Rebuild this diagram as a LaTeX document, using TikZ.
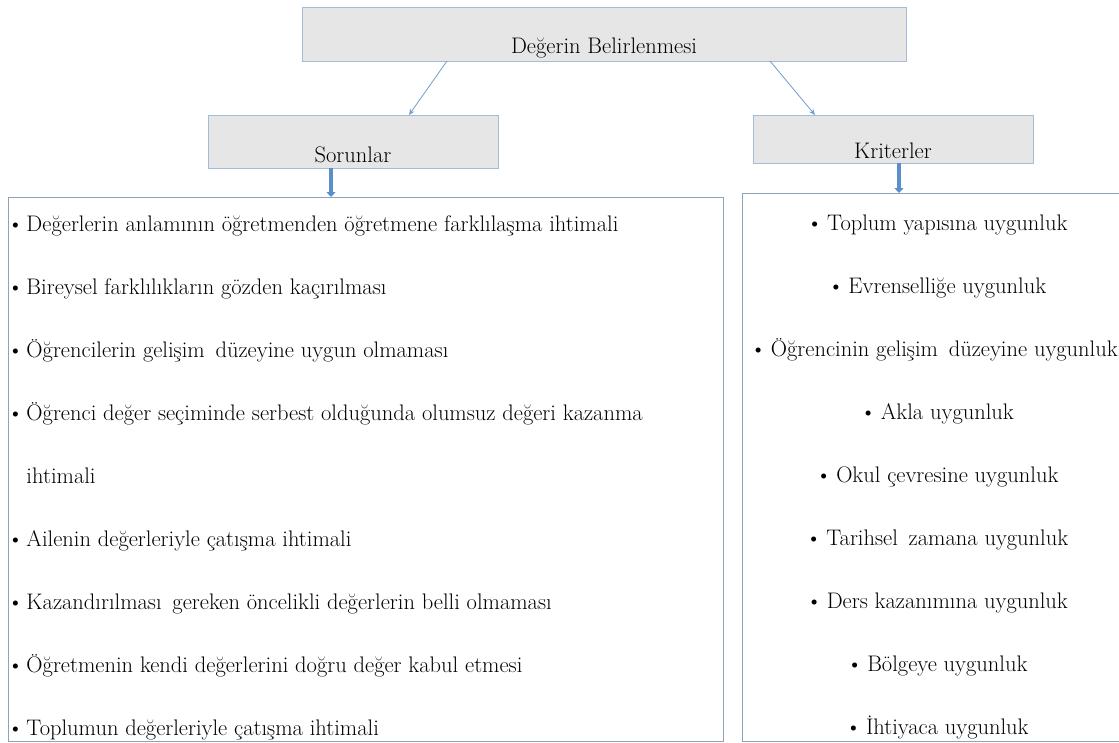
\documentclass[tikz,border=0pt]{standalone}
\usetikzlibrary{arrows.meta,calc}

\definecolor{boxfill}{HTML}{E7E6E6}
\definecolor{boxedge}{HTML}{A3BDD8}
\definecolor{listedge}{HTML}{8DA3B9}
\definecolor{linkblue}{HTML}{6F9DD0}
\definecolor{flowblue}{HTML}{5B8FCB}

\newcommand{\wsp}{\hspace{4pt}}
\newcommand{\bul}{\textbullet\hspace{4.5pt}}

\begin{document}
\begin{tikzpicture}[x=1pt,y=-1pt,
  every node/.style={font=\fontsize{22.5}{27}\selectfont, inner sep=0pt, outer sep=0pt},
  headbox/.style={draw=boxedge, fill=boxfill, line width=1pt, anchor=north west},
  listbox/.style={draw=listedge, line width=1pt, anchor=north west},
  thinlink/.style={draw=linkblue, line width=0.8pt, -{Stealth[length=6pt,width=5pt]}},
  flow/.style={draw=flowblue, line width=4.5pt, -{Triangle[length=5pt,width=9pt]}},
  bulmark/.style={anchor=base},
  itemtext/.style={anchor=base west},
  critem/.style={anchor=base}]

  % canvas
  \clip (0,0) rectangle (1119,742);
  \fill[white] (0,0) rectangle (1119,742);

  % heading boxes
  \node[headbox, minimum width=604, minimum height=54] (top) at (302,7) {};
  \node[anchor=base] (topl) at ($(top.south)+(0,-8)$) {Değerin Belirlenmesi};

  \node[headbox, minimum width=290, minimum height=53] (sor) at (208,115) {};
  \node[anchor=base] (sorl) at ($(sor.south)+(0,-6)$) {Sorunlar};

  \node[headbox, minimum width=280, minimum height=48] (kri) at (753,115) {};
  \node[anchor=base] (kril) at ($(kri.south)+(0,-5)$) {Kriterler};

  % list boxes
  \node[listbox, minimum width=715, minimum height=544] (lst1) at (8.5,197) {};
  \node[listbox, minimum width=392, minimum height=548] (lst2) at (742,193) {};

  % connectors
  \draw[thinlink] (top.south -| 447,0) -- (sor.north -| 409,0);
  \draw[thinlink] (top.south -| 770,0) -- (kri.north -| 815,0);
  \draw[flow] (sor.south -| 331,0) -- (lst1.north -| 331,0);
  \draw[flow] (kri.south -| 899,0) -- (lst2.north -| 899,0);

  % problems
  \node[bulmark] (b1) at (15.5,231) {\textbullet};
  \node[itemtext] (s1) at (26.5,231) {Değerlerin anlamının öğretmenden öğretmene farklılaşma ihtimali};
  \node[bulmark] (b2) at (15.5,294) {\textbullet};
  \node[itemtext] (s2) at (26.5,294) {Bireysel farklılıkların gözden kaçırılması};
  \node[bulmark] (b3) at (15.5,357) {\textbullet};
  \node[itemtext] (s3) at (26.5,357) {Öğrencilerin gelişim\wsp{} düzeyine uygun olmaması};
  \node[bulmark] (b4) at (15.5,420) {\textbullet};
  \node[itemtext] (s4) at (26.5,420) {Öğrenci değer seçiminde serbest olduğunda olumsuz değeri kazanma};
  \node[itemtext] (s4b) at (26.5,483) {ihtimali};
  \node[bulmark] (b5) at (15.5,546) {\textbullet};
  \node[itemtext] (s5) at (26.5,546) {Ailenin değerleriyle çatışma ihtimali};
  \node[bulmark] (b6) at (15.5,609) {\textbullet};
  \node[itemtext] (s6) at (26.5,609) {Kazandırılması\wsp{} gereken öncelikli değerlerin belli olmaması};
  \node[bulmark] (b7) at (15.5,672) {\textbullet};
  \node[itemtext] (s7) at (26.5,672) {Öğretmenin kendi değerlerini doğru değer kabul etmesi};
  \node[bulmark] (b8) at (15.5,735) {\textbullet};
  \node[itemtext] (s8) at (26.5,735) {Toplumun değerleriyle çatışma ihtimali};

  % criteria
  \node[critem] (k1) at (937,230) {\bul Toplum yapısına uygunluk};
  \node[critem] (k2) at (937,293) {\bul Evrenselliğe uygunluk};
  \node[critem] (k3) at (934,356) {\bul Öğrencinin gelişim\wsp{} düzeyine uygunluk};
  \node[critem] (k4) at (937,419) {\bul Akla uygunluk};
  \node[critem] (k5) at (937,482) {\bul Okul çevresine uygunluk};
  \node[critem] (k6) at (937,545) {\bul Tarihsel\wsp{} zamana uygunluk};
  \node[critem] (k7) at (937,608) {\bul Ders kazanımına uygunluk};
  \node[critem] (k8) at (937,671) {\bul Bölgeye uygunluk};
  \node[critem] (k9) at (937,734) {\bul İhtiyaca uygunluk};
\end{tikzpicture}
\end{document}
